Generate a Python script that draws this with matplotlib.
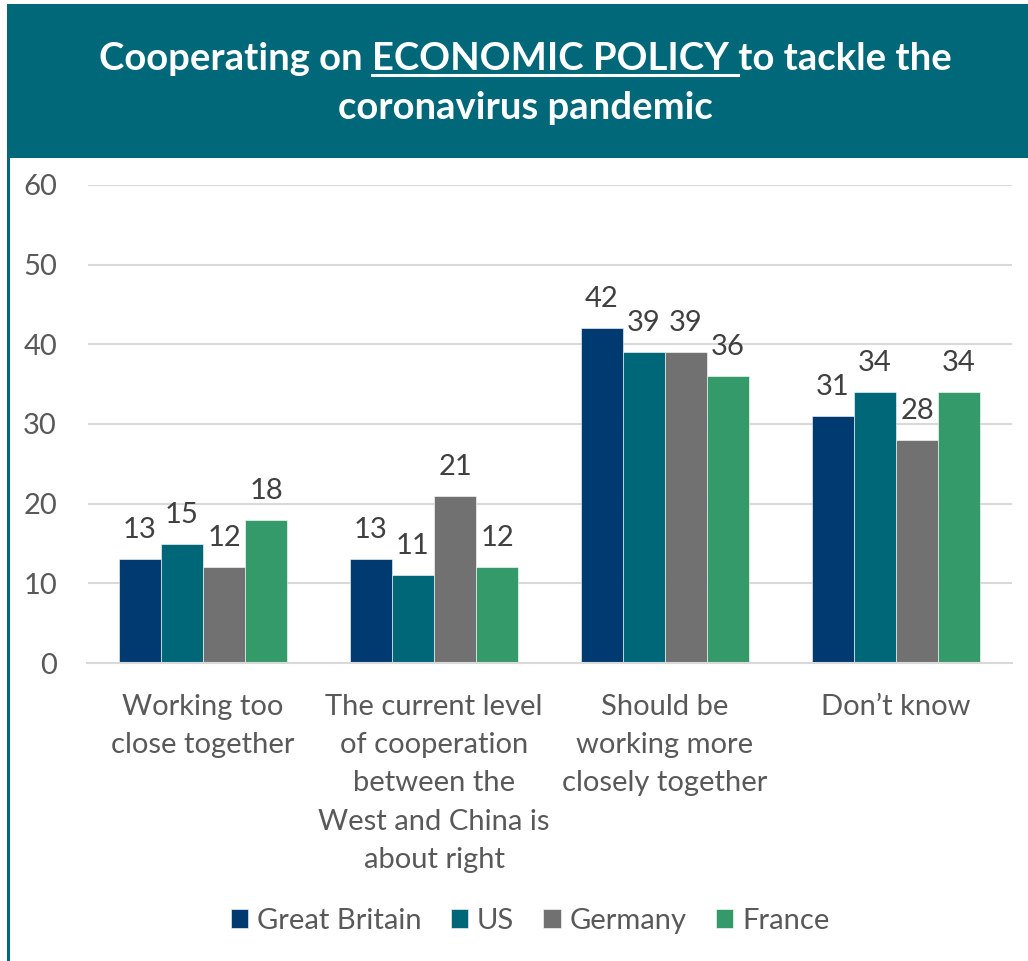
import matplotlib
matplotlib.use("Agg")
import matplotlib.pyplot as plt
from matplotlib.patches import Rectangle
import numpy as np

plt.rcParams['font.family'] = ['Lato', 'DejaVu Sans']

categories = ["Working too\nclose together",
              "The current level\nof cooperation\nbetween the\nWest and China is\nabout right",
              "Should be\nworking more\nclosely together",
              "Don\u2019t know"]
series_names = ["Great Britain", "US", "Germany", "France"]
great_britain = [13, 13, 42, 31]
us = [15, 11, 39, 34]
germany = [12, 21, 39, 28]
france = [18, 12, 36, 34]
series_values = [great_britain, us, germany, france]
colors = ["#003A70", "#006778", "#717171", "#359A69"]
yticks = [0, 10, 20, 30, 40, 50, 60]

TEAL = "#006878"
GREY_TEXT = "#595959"
VALUE_TEXT = "#404040"
FS = 21

W, H = 1028, 961
fig = plt.figure(figsize=(W / 100, H / 100), dpi=100)
fig.patch.set_facecolor("white")

# Title banner and left border line
fig.add_artist(Rectangle((7 / W, 1 - 158 / H), 1 - 7 / W, 154 / H,
                         transform=fig.transFigure, facecolor=TEAL,
                         edgecolor="none", zorder=0))
fig.add_artist(Rectangle((7 / W, 0), 2.5 / W, 1 - 158 / H,
                         transform=fig.transFigure, facecolor=TEAL,
                         edgecolor="none", zorder=0))

title_fs = 27.5
cx = 525 / W
y1 = 1 - 59 / H
y2 = 1 - 108 / H
part_a = "Cooperating on "
part_b = "ECONOMIC POLICY "
part_c = "to tackle the"
t_full = fig.text(cx, y1, part_a + part_b + part_c, color="white",
                  fontsize=title_fs, fontweight="bold", ha="center",
                  va="center")
fig.text(cx, y2, "coronavirus pandemic", color="white", fontsize=title_fs,
         fontweight="bold", ha="center", va="center")

fig.canvas.draw()
renderer = fig.canvas.get_renderer()
full_bb = t_full.get_window_extent(renderer)


def text_width(s):
    t = fig.text(0, 0, s, fontsize=title_fs, fontweight="bold")
    w = t.get_window_extent(renderer).width
    t.remove()
    return w


# measure with a trailing marker so spaces are counted
marker_w = text_width("|")
wa = text_width(part_a + "|") - marker_w
wb = text_width(part_a + part_b + "|") - marker_w
x_start = full_bb.x0 + wa
x_end = full_bb.x0 + wb
uy = full_bb.y0 + 1
fig.add_artist(plt.Line2D([x_start / W, x_end / W], [uy / H, uy / H],
                          transform=fig.transFigure, color="white",
                          linewidth=2.2))

# Chart area
ax = fig.add_axes([87.5 / W, 1 - 663 / H, (1011.5 - 87.5) / W, (663 - 185) / H])
ax.set_ylim(0, 60)
ax.set_xlim(-0.5, len(categories) - 0.5)
ax.set_yticks(yticks)
ax.set_yticklabels([str(v) for v in yticks])
ax.yaxis.grid(True, color="#D9D9D9", linewidth=1.5)
ax.set_axisbelow(True)
for s in ["top", "right", "left"]:
    ax.spines[s].set_visible(False)
ax.spines["bottom"].set_color("#D9D9D9")
ax.spines["bottom"].set_linewidth(1.5)
ax.tick_params(axis="both", length=0, labelsize=FS, colors=GREY_TEXT)
ax.tick_params(axis="y", pad=22)

x = np.arange(len(categories))
bw = 0.182
for i, (name, vals, col) in enumerate(zip(series_names, series_values, colors)):
    pos = x + (i - 1.5) * bw
    bars = ax.bar(pos, vals, width=bw, color=col, label=name,
                  edgecolor="white", linewidth=0.4, zorder=2)
    for b, v in zip(bars, vals):
        ax.text(b.get_x() + b.get_width() / 2, v + 2.0, str(v),
                ha="center", va="bottom", fontsize=FS, color=VALUE_TEXT)

ax.set_xticks(x)
ax.set_xticklabels(categories, linespacing=1.59)
ax.tick_params(axis="x", pad=22)

leg = fig.legend(loc="center", bbox_to_anchor=(530 / W, 1 - 921 / H),
                 ncol=4, frameon=False, fontsize=FS, handlelength=0.6,
                 handleheight=0.6, handletextpad=0.3, columnspacing=1.0)
for t in leg.get_texts():
    t.set_color(GREY_TEXT)

fig.savefig("out.png", dpi=100, facecolor="white")
